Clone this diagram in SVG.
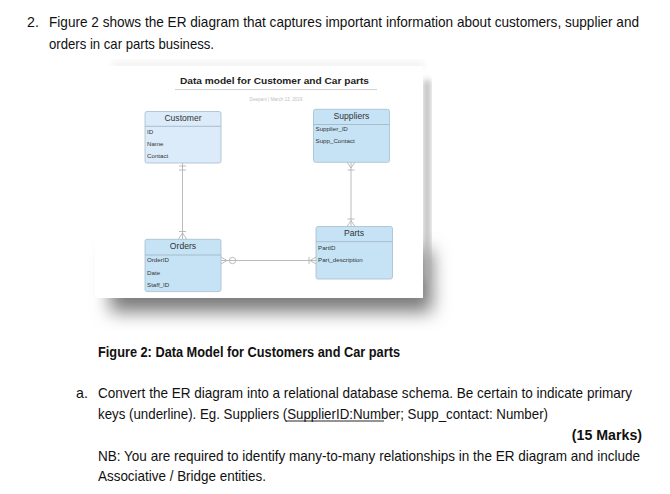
<svg xmlns="http://www.w3.org/2000/svg" width="670" height="494" viewBox="0 0 670 494">
<style>
.doc{font-family:"Liberation Sans",Arial,sans-serif;font-size:14.2px;fill:#111}
.b{font-weight:bold}
.ent{stroke:#a6bccd;stroke-width:0.8}
.hd{font-family:"Liberation Sans",Arial,sans-serif;font-size:8.6px;fill:#333;text-anchor:middle}
.at{font-family:"Liberation Sans",Arial,sans-serif;font-size:6.2px;fill:#333}
.cn{stroke:#b3b3b3;stroke-width:0.9;fill:none}
.div{stroke:#9fb3c2;stroke-width:0.8}
</style>
<defs>
<filter id="blur" x="-20%" y="-30%" width="140%" height="160%">
<feGaussianBlur stdDeviation="9"/>
</filter>
<filter id="blurT" x="-20%" y="-50%" width="140%" height="200%">
<feGaussianBlur stdDeviation="3"/>
</filter>
</defs>
<rect width="670" height="494" fill="#ffffff"/>

<g id="question-text">
<text class="doc" x="27" y="27">2.</text>
<text class="doc" x="49" y="27" textLength="590" lengthAdjust="spacingAndGlyphs">Figure 2 shows the ER diagram that captures important information about customers, supplier and</text>
<text class="doc" x="49" y="49" textLength="165" lengthAdjust="spacingAndGlyphs">orders in car parts business.</text>
</g>

<g id="figure-frame">
<rect x="112" y="62" width="312" height="6" fill="#efefef" filter="url(#blurT)"/>
<rect x="110" y="250" width="322" height="62" fill="#7a7a7a" filter="url(#blur)"/>
<rect x="424" y="80" width="6" height="200" fill="#b0b0b0" filter="url(#blurT)"/>
<rect x="95" y="66" width="328" height="232" fill="#ffffff"/>
</g>

<g id="figure-title">
<text x="274.5" y="83.5" text-anchor="middle" font-family="Liberation Sans, Arial, sans-serif" font-size="9.6" font-weight="bold" fill="#222" textLength="189" lengthAdjust="spacingAndGlyphs">Data model for Customer and Car parts</text>
<line x1="175" y1="89.5" x2="377" y2="89.5" stroke="#c4c4c4" stroke-width="0.8"/>
<text x="276" y="100.5" text-anchor="middle" font-family="Liberation Sans, Arial, sans-serif" font-size="4.6" fill="#c0c0c0">Deepani  |  March 13, 2019</text>
</g>

<g id="connectors">
<line class="cn" x1="182.5" y1="163" x2="182.5" y2="239"/>
<line class="cn" x1="179" y1="166" x2="186" y2="166"/>
<line class="cn" x1="179" y1="170" x2="186" y2="170"/>
<line class="cn" x1="179" y1="231.5" x2="186" y2="231.5"/>
<path class="cn" d="M178.5 239 L182.5 233 L186.5 239"/>

<line class="cn" x1="351" y1="162" x2="351" y2="226.5"/>
<path class="cn" d="M347 162 L351 168 L355 162"/>
<line class="cn" x1="347.5" y1="170" x2="354.5" y2="170"/>
<path class="cn" d="M347 226.5 L351 220.5 L355 226.5"/>
<line class="cn" x1="347.5" y1="219" x2="354.5" y2="219"/>

<line class="cn" x1="221" y1="260.5" x2="316" y2="260.5"/>
<path class="cn" d="M221 257 L227 260.5 L221 264"/>
<circle class="cn" cx="232.5" cy="260.5" r="3.2" fill="#ffffff"/>
<path class="cn" d="M316 257 L310 260.5 L316 264"/>
<line class="cn" x1="309" y1="257" x2="309" y2="264"/>
</g>

<g id="customer">
<rect class="ent" x="145" y="111.5" width="76" height="51.5" rx="2" fill="#dcebf9"/>
<line class="div" x1="145" y1="126.3" x2="221" y2="126.3"/>
<text class="hd" x="183" y="120.7">Customer</text>
<text class="at" x="147" y="134">ID</text>
<text class="at" x="147" y="146.3">Name</text>
<text class="at" x="147" y="158.3">Contact</text>
</g>

<g id="suppliers">
<rect class="ent" x="313.5" y="109.3" width="76" height="53" rx="2" fill="#c6e3f6"/>
<line class="div" x1="313.5" y1="124.5" x2="389.5" y2="124.5"/>
<text class="hd" x="351.5" y="119">Suppliers</text>
<text class="at" x="315.5" y="130.5">Supplier_ID</text>
<text class="at" x="315.5" y="143.3">Supp_Contact</text>
</g>

<g id="parts">
<rect class="ent" x="316" y="226.5" width="76.5" height="52.5" rx="2" fill="#c6e3f6"/>
<line class="div" x1="316" y1="241.7" x2="392.5" y2="241.7"/>
<text class="hd" x="354" y="236">Parts</text>
<text class="at" x="318" y="250.3">PartID</text>
<text class="at" x="318" y="262.3">Part_description</text>
</g>

<g id="orders">
<rect class="ent" x="145" y="239.3" width="76" height="52.3" rx="2" fill="#c6e3f6"/>
<line class="div" x1="145" y1="255" x2="221" y2="255"/>
<text class="hd" x="183" y="249">Orders</text>
<text class="at" x="147" y="262.3">OrderID</text>
<text class="at" x="147" y="275">Date</text>
<text class="at" x="147" y="287.3">Staff_ID</text>
</g>

<g id="caption-and-task">
<text class="doc b" x="98" y="357" textLength="302" lengthAdjust="spacingAndGlyphs">Figure 2: Data Model for Customers and Car parts</text>
<text class="doc" x="76" y="398">a.</text>
<text class="doc" x="98" y="398" textLength="534" lengthAdjust="spacingAndGlyphs">Convert the ER diagram into a relational database schema.  Be certain to indicate primary</text>
<text class="doc" x="98" y="419" textLength="450" lengthAdjust="spacingAndGlyphs">keys (underline). Eg. Suppliers (SupplierID:Number; Supp_contact: Number)</text>
<line x1="286" y1="421" x2="384" y2="421" stroke="#111" stroke-width="0.9"/>
<text class="doc b" x="642" y="440" text-anchor="end">(15 Marks)</text>
<text class="doc" x="98" y="461" textLength="542" lengthAdjust="spacingAndGlyphs">NB: You are required to identify many-to-many relationships in the ER diagram and include</text>
<text class="doc" x="98" y="481" textLength="168" lengthAdjust="spacingAndGlyphs">Associative / Bridge entities.</text>
</g>
</svg>
